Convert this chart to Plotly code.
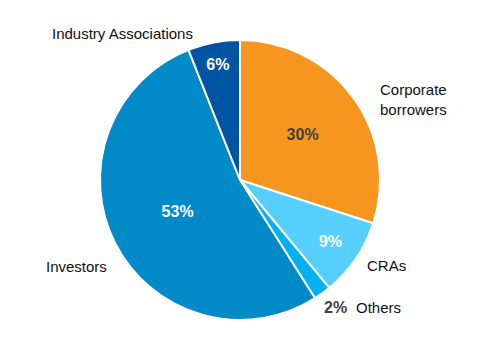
import plotly.graph_objects as go

categories = ["Corporate borrowers", "CRAs", "Others", "Investors", "Industry Associations"]
shares = [30, 9, 2, 53, 6]
colors = ["#F7961F", "#56CEFE", "#00B0F0", "#008AC8", "#0054A2"]
text_colors = ["#404040", "white", "#404040", "white", "white"]
positions = ["inside", "inside", "none", "inside", "inside"]

W, H = 480, 351
FAM = "Liberation Sans, Arial, sans-serif"

fig = go.Figure(go.Pie(
    labels=categories,
    values=shares,
    sort=False,
    direction="clockwise",
    rotation=0,
    marker=dict(colors=colors, line=dict(color="white", width=2)),
    texttemplate="%{value}%",
    textposition=positions,
    insidetextorientation="horizontal",
    textfont=dict(family=FAM, size=16, color=text_colors, weight="bold"),
    domain=dict(x=[100 / W, 380 / W], y=[1 - 320 / H, 1 - 40 / H]),
    hoverinfo="label+percent",
    showlegend=False,
))

label_specs = [
    ("Industry Associations", 122, 33, "center"),
    ("Corporate<br>borrowers", 378, 100, "left"),
    ("CRAs", 365, 265, "left"),
    ("Others", 354, 307, "left"),
    ("Investors", 44, 266, "left"),
]
font = dict(family=FAM, size=15, color="#111111")
anns = []
for txt, x, y, al in label_specs:
    anns.append(dict(text=txt, x=x / W, y=1 - y / H, xref="paper", yref="paper",
                     xanchor=al, yanchor="middle", showarrow=False,
                     align=al, font=font))

# small "Others" share shown outside the slice, next to its label
anns.append(dict(text=f"{shares[2]}%", x=335 / W, y=1 - 307 / H, xref="paper", yref="paper",
                 xanchor="center", yanchor="middle", showarrow=False,
                 font=dict(family=FAM, size=16, color="#404040", weight="bold")))

fig.update_layout(
    width=W, height=H,
    margin=dict(l=0, r=0, t=0, b=0),
    paper_bgcolor="white", plot_bgcolor="white",
    annotations=anns,
)

fig.write_html("out.html")
